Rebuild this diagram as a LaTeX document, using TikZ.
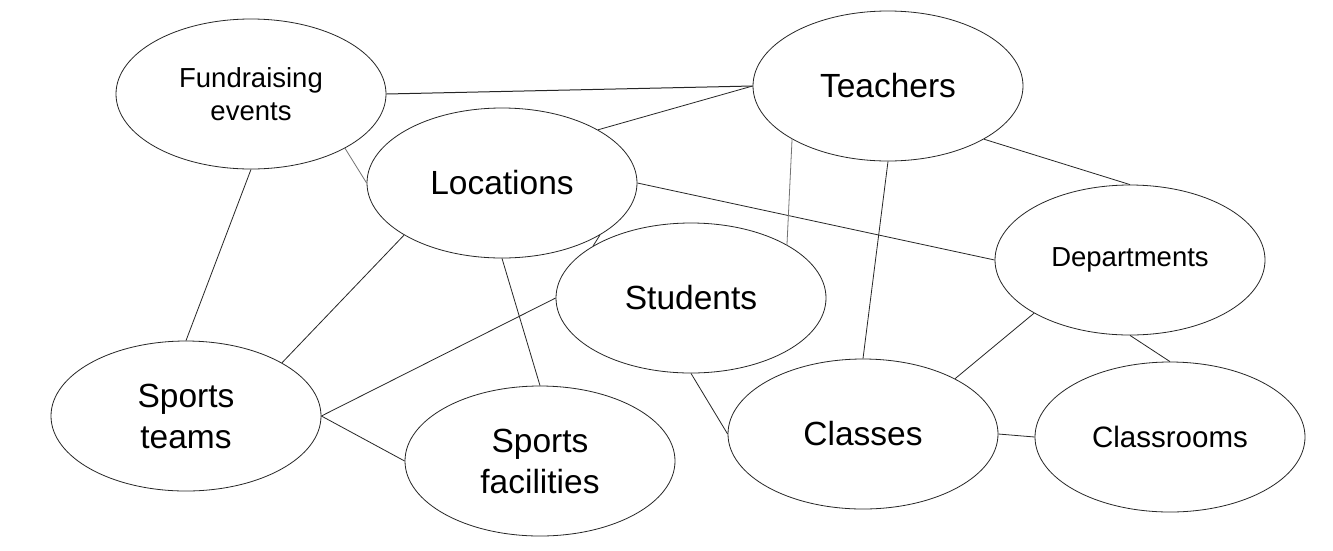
\documentclass[tikz,border=0pt]{standalone}
\usepackage{fontspec}
\setmainfont{Liberation Sans}
\usetikzlibrary{shapes.geometric}
\begin{document}
\begin{tikzpicture}[x=1pt,y=-1pt,
  ent/.style={ellipse,draw=black!85,line width=0.8pt,fill=white,minimum width=270pt,minimum height=150pt,inner sep=0pt,align=center},
  big/.style={font=\fontsize{33.5}{41}\selectfont},
  small/.style={font=\fontsize{27.5}{33}\selectfont},
  link/.style={draw=black!85,line width=0.8pt},
  glink/.style={draw=black!55,line width=0.8pt}]
\useasboundingbox[fill=white] (0,0) rectangle (1333,550);
\node[ent,small] (fund) at (251,94) {Fundraising\\events};
\node[ent,big] (teach) at (888,86) {Teachers};
\node[ent,big] (loc) at (502,183) {Locations};
\node[ent,big] (stud) at (691,298) {Students};
\node[ent,small] (dept) at (1130,260) {Departments};
\node[ent,big] (st) at (186,416) {Sports\\teams};
\node[ent,big] (sf) at (540,461) {Sports\\facilities};
\node[ent,big] (cls) at (863,434) {Classes};
\node[ent,font=\fontsize{29.5}{35}\selectfont] (cr) at (1170,437) {Classrooms};
\draw[link,line width=1pt] (fund.east) -- (teach.west);
\draw[link] (loc.29) -- (teach.west);
\draw[glink] (fund.-30) -- (loc.west);
\draw[link] (fund.south) -- (st.north);
\draw[link] (loc.-152) -- (st.29);
\draw[link] (loc.south) -- (sf.north);
\draw[link] (loc.east) -- (dept.west);
\draw[link] (loc.-28) -- (stud.152);
\draw[glink] (teach.-151) -- (stud.29);
\draw[link] (teach.south) -- (cls.north);
\draw[link] (teach.-29) -- (dept.north);
\draw[link] (stud.west) -- (st.east);
\draw[link] (stud.south) -- (cls.west);
\draw[link] (st.east) -- (sf.west);
\draw[link] (dept.-151) -- (cls.31);
\draw[link] (dept.south) -- (cr.north);
\draw[link] (cls.east) -- (cr.west);
\end{tikzpicture}
\end{document}
